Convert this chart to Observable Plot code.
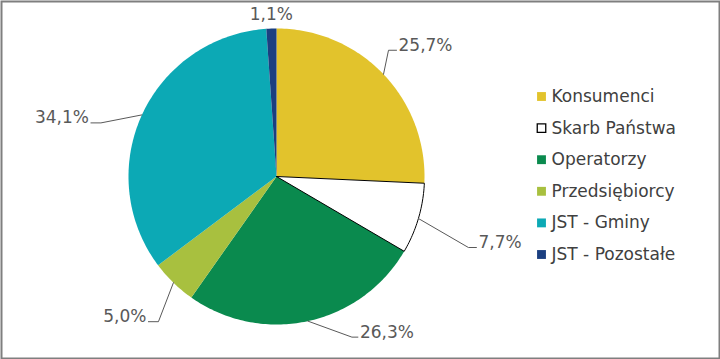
<!DOCTYPE html>
<html><head><meta charset="utf-8">
<script src="https://cdn.jsdelivr.net/npm/d3@7"></script>
<script src="https://cdn.jsdelivr.net/npm/@observablehq/plot@0.6"></script>
<style>body{margin:0;background:#fff} #chart svg{display:block}</style>
</head><body><div id="chart"></div>
<script>
// ---- data ----
const categories = ["Konsumenci", "Skarb Państwa", "Operatorzy", "Przedsiębiorcy", "JST - Gminy", "JST - Pozostałe"];
const shares = [25.7, 7.7, 26.3, 5.0, 34.1, 1.1];
const valueLabels = ["25,7%", "7,7%", "26,3%", "5,0%", "34,1%", "1,1%"];
const colors = ["#E2C32C", "#FFFFFF", "#0A8A4E", "#A8C03F", "#0CA9B5", "#1B3F80"];

// ---- layout (pixels) ----
const W = 720, H = 359, CX = 276, CY = 176, R = 148;
const leaderOffsets = [[5, -24], [50, 29], [44, 16], [-15, 39], [-41, 8], [0, -14]];
const leaderTail = [8, 8, 6, -10, -10, 0];
const legendX = 541, legendTextX = 551, legendTop = 96, legendStep = 31.6;
const font = "DejaVu Sans, Verdana, sans-serif";

const total = d3.sum(shares);
let acc = 0;
const slices = categories.map((cat, i) => {
  const a0 = acc / total * 2 * Math.PI; acc += shares[i];
  const a1 = acc / total * 2 * Math.PI;
  return {cat, i, a0, a1, mid: (a0 + a1) / 2};
});

const pts = slices.flatMap(s => {
  const n = Math.max(2, Math.ceil((s.a1 - s.a0) / (2 * Math.PI) * 360));
  const arr = [{cat: s.cat, x: 0, y: 0}];
  for (let k = 0; k <= n; k++) {
    const a = s.a0 + (s.a1 - s.a0) * k / n;
    arr.push({cat: s.cat, x: Math.sin(a), y: Math.cos(a)});
  }
  arr.push({cat: s.cat, x: 0, y: 0});
  return arr;
});

const leaders = [];
const labels = [];
slices.forEach(s => {
  const ax = Math.sin(s.mid), ay = Math.cos(s.mid);
  const [dx, dy] = leaderOffsets[s.i];
  const ex = ax + dx / R, ey = ay - dy / R;
  const tail = leaderTail[s.i];
  if (tail === 0) {
    labels.push({text: valueLabels[s.i], x: ex, y: ey, anchor: "middle"});
  } else {
    const tx = ex + tail / R;
    leaders.push({cat: s.cat, x: ax, y: ay}, {cat: s.cat, x: ex, y: ey}, {cat: s.cat, x: tx, y: ey});
    labels.push({text: valueLabels[s.i], x: tx + Math.sign(tail) * 2 / R, y: ey, anchor: tail > 0 ? "start" : "end"});
  }
});

const legend = categories.map((cat, i) => ({cat, y: (CY - (legendTop + i * legendStep)) / R}));
const lx = (legendX - CX) / R, ltx = (legendTextX - CX) / R;

const plot = Plot.plot({
  width: W, height: H,
  marginLeft: 0, marginRight: 0, marginTop: 0, marginBottom: 0,
  x: {domain: [-1, 1], range: [CX - R, CX + R], axis: null},
  y: {domain: [-1, 1], range: [CY + R, CY - R], axis: null},
  color: {domain: categories, range: colors},
  style: {fontFamily: font, background: "#fff"},
  marks: [
    Plot.line(pts, {x: "x", y: "y", z: "cat", fill: "cat", stroke: null, curve: "linear"}),
    Plot.line(pts.filter(d => d.cat === "Skarb Państwa"), {x: "x", y: "y", stroke: "#000", strokeWidth: 1}),
    Plot.line(leaders, {x: "x", y: "y", z: "cat", stroke: "#595959", strokeWidth: 1}),
    Plot.text(labels.filter(d => d.anchor === "start"), {x: "x", y: "y", text: "text", textAnchor: "start", dy: -5, fontSize: 17, fill: "#595959", fontFamily: font}),
    Plot.text(labels.filter(d => d.anchor === "end"), {x: "x", y: "y", text: "text", textAnchor: "end", dy: -5, fontSize: 17, fill: "#595959", fontFamily: font}),
    Plot.text(labels.filter(d => d.anchor === "middle"), {x: "x", y: "y", text: "text", textAnchor: "middle", fontSize: 17, fill: "#595959", fontFamily: font}),
    Plot.dot(legend, {x: () => lx, y: "y", symbol: "square", r: 5, fill: "cat", stroke: null}),
    Plot.dot(legend.filter(d => d.cat === "Skarb Państwa"), {x: () => lx, y: "y", symbol: "square", r: 4.8, fill: "none", stroke: "#000", strokeWidth: 1.3}),
    Plot.text(legend, {x: () => ltx, y: "y", text: "cat", textAnchor: "start", fontSize: 17, fill: "#404040", fontFamily: font}),
    Plot.frame({stroke: "#7f7f7f", strokeWidth: 2, inset: 1})
  ]
});
document.getElementById("chart").appendChild(plot);
</script>
</body></html>
